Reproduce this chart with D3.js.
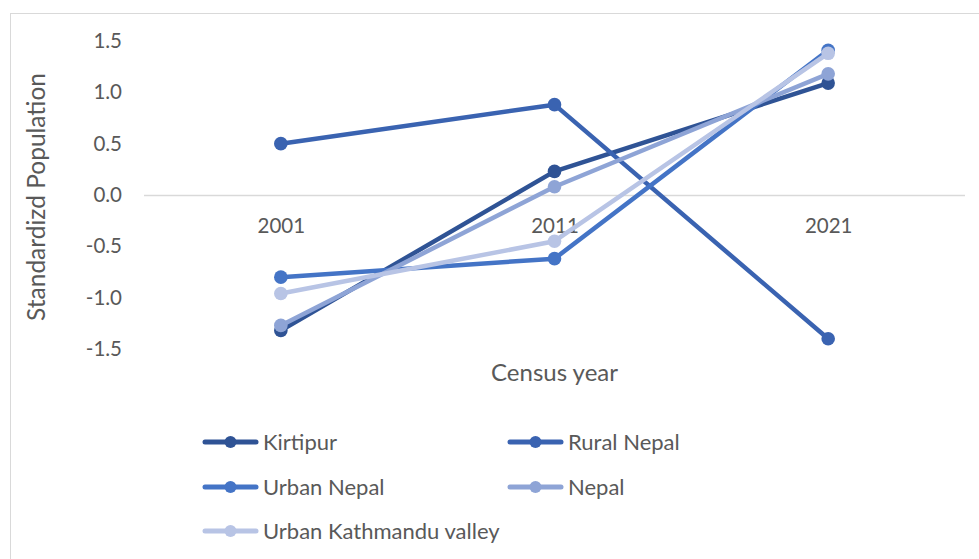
<!DOCTYPE html>
<html>
<head>
<meta charset="utf-8">
<script src="https://cdn.jsdelivr.net/npm/d3@7"></script>
<style>
  html, body { margin: 0; padding: 0; background: #fff; }
  svg { display: block; }
  text { font-family: Lato, "Open Sans", sans-serif; fill: #595959; }
</style>
</head>
<body>
<svg id="chart" width="979" height="559"></svg>
<script>
const years = ["2001", "2011", "2021"];
const seriesNames = ["Kirtipur", "Rural Nepal", "Urban Nepal", "Nepal", "Urban Kathmandu valley"];
const kirtipur = [-1.32, 0.23, 1.09];
const ruralNepal = [0.50, 0.88, -1.40];
const urbanNepal = [-0.80, -0.62, 1.41];
const nepal = [-1.27, 0.08, 1.18];
const urbanKathmanduValley = [-0.96, -0.45, 1.38];
const yTicks = [-1.5, -1.0, -0.5, 0.0, 0.5, 1.0, 1.5];
const colors = ["#2F5395", "#3A63B1", "#4474C6", "#8EA4D6", "#B8C4E5"];

const seriesValues = [kirtipur, ruralNepal, urbanNepal, nepal, urbanKathmanduValley];
const series = seriesNames.map((name, i) => ({
  name, color: colors[i],
  values: years.map((y, j) => ({ year: y, value: seriesValues[i][j] }))
}));

const svg = d3.select("#chart");

// chart border
svg.append("rect")
  .attr("x", 10.5).attr("y", 13.5)
  .attr("width", 1200).attr("height", 800)
  .attr("fill", "none").attr("stroke", "#d9d9d9").attr("stroke-width", 1);

const x = d3.scalePoint().domain(years).range([144, 965]).padding(0.5);
const y = d3.scaleLinear().domain([-1.5, 1.5]).range([349, 41]);

// y axis
const yAxis = svg.append("g")
  .attr("transform", "translate(122,0)")
  .call(d3.axisLeft(y).tickValues(yTicks).tickSize(0).tickPadding(0)
    .tickFormat(d => d.toFixed(1)));
yAxis.select(".domain").remove();
yAxis.selectAll("text")
  .style("font-family", "Lato, 'Open Sans', sans-serif")
  .style("font-size", "20.5px").attr("fill", "#595959");

// x axis at zero
const xAxis = svg.append("g")
  .attr("transform", `translate(0,${y(0)})`)
  .call(d3.axisBottom(x).tickSize(0).tickPadding(23));
xAxis.select(".domain").attr("stroke", "#d9d9d9").attr("stroke-width", 1.3)
  .attr("d", `M144,0.5H965`);
xAxis.selectAll("text")
  .style("font-family", "Lato, 'Open Sans', sans-serif")
  .style("font-size", "20.5px").attr("fill", "#595959");

// axis titles
svg.append("text")
  .attr("transform", `translate(45,${y(0) + 2}) rotate(-90)`)
  .attr("text-anchor", "middle")
  .style("font-size", "24.5px")
  .text("Standardizd Population");

svg.append("text")
  .attr("x", x("2011")).attr("y", 381)
  .attr("text-anchor", "middle")
  .style("font-size", "24px")
  .text("Census year");

// lines
const line = d3.line().x(d => x(d.year)).y(d => y(d.value));
const g = svg.append("g");
series.forEach(s => {
  const sg = g.append("g");
  sg.append("path")
    .datum(s.values)
    .attr("d", line)
    .attr("fill", "none")
    .attr("stroke", s.color)
    .attr("stroke-width", 4.5)
    .attr("stroke-linejoin", "round")
    .attr("stroke-linecap", "round");
  sg.selectAll("circle").data(s.values).join("circle")
    .attr("cx", d => x(d.year)).attr("cy", d => y(d.value))
    .attr("r", 6.8).attr("fill", s.color);
});

// legend
const legendPos = [
  { lx: 203, ly: 442 }, { lx: 508, ly: 442 },
  { lx: 203, ly: 487 }, { lx: 508, ly: 487 },
  { lx: 203, ly: 531 }
];
series.forEach((s, i) => {
  const p = legendPos[i];
  const lg = svg.append("g").attr("transform", `translate(${p.lx},${p.ly})`);
  lg.append("line").attr("x1", 2).attr("x2", 53).attr("y1", 0).attr("y2", 0)
    .attr("stroke", s.color).attr("stroke-width", 5).attr("stroke-linecap", "round");
  lg.append("circle").attr("cx", 27.5).attr("cy", 0).attr("r", 6).attr("fill", s.color);
  lg.append("text").attr("x", 60).attr("y", 0).attr("dy", "0.35em")
    .style("font-size", "22px").text(s.name);
});
</script>
</body>
</html>
